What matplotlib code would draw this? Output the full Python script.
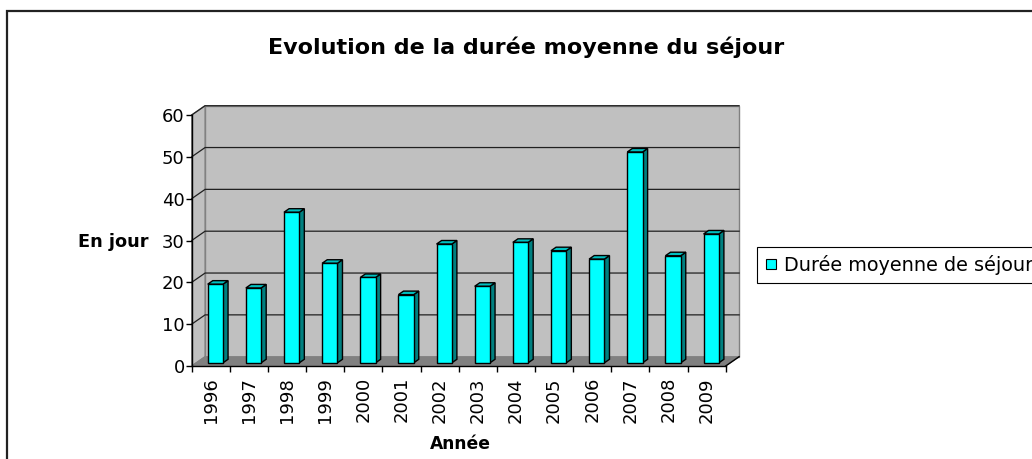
import matplotlib
matplotlib.use('Agg')
import matplotlib.pyplot as plt
from matplotlib.patches import Polygon, Rectangle
from matplotlib.lines import Line2D

# ---------------- data ----------------
years = ['1996', '1997', '1998', '1999', '2000', '2001', '2002',
         '2003', '2004', '2005', '2006', '2007', '2008', '2009']
values = [18.8, 17.9, 36.0, 23.8, 20.4, 16.3, 28.4,
          18.3, 28.8, 26.8, 24.8, 50.4, 25.6, 30.8]
y_ticks = [0, 10, 20, 30, 40, 50, 60]
title = "Evolution de la durée moyenne du séjour"
xlabel = "Année"
ylabel = "En jour"
legend_label = "Durée moyenne de séjour"

# ---------------- style ----------------
FRONT = '#00FFFF'
SIDE = '#008080'
TOP = '#00C0C0'
WALL = '#C0C0C0'
FLOOR = '#808080'
plt.rcParams['font.family'] = ['DejaVu Sans']

W, H = 1032, 459
fig = plt.figure(figsize=(W / 100, H / 100), dpi=100)
fig.patch.set_facecolor('white')

# front plane of the plot (pixel positions)
x0p, x1p = 191.7, 725.7
y0p, y1p = 366.0, 115.0
ax = fig.add_axes([x0p / W, 1 - y0p / H, (x1p - x0p) / W, (y0p - y1p) / H])
n = len(years)
ymax = y_ticks[-1]
ax.set_xlim(0, n)
ax.set_ylim(0, ymax)
ax.patch.set_visible(False)

# depth offset (in data units)
dX = 13.4 / ((x1p - x0p) / n)
dY = 9.3 / ((y0p - y1p) / ymax)

# walls
floor = Polygon([(0, 0), (n, 0), (n + dX, dY), (dX, dY)], closed=True,
                facecolor=FLOOR, edgecolor=FLOOR, lw=0.8, zorder=0, clip_on=False)
back = Polygon([(dX, dY), (n + dX, dY), (n + dX, ymax + dY), (dX, ymax + dY)], closed=True,
               facecolor=WALL, edgecolor='#808080', lw=1.0, zorder=0, clip_on=False)
side = Polygon([(0, 0), (dX, dY), (dX, ymax + dY), (0, ymax)], closed=True,
               facecolor=WALL, edgecolor='#808080', lw=1.0, zorder=0, clip_on=False)
for p in (back, side, floor):
    ax.add_patch(p)

# gridlines on back and side walls
for t in y_ticks[1:]:
    ax.plot([0, dX, n + dX], [t, t + dY, t + dY], color='#202020', lw=0.9,
            zorder=1, clip_on=False)
# floor right edge
ax.plot([n, n + dX], [0, dY], color='black', lw=1.0, zorder=1, clip_on=False)

# bars
f0, f1 = 0.34, 0.72
bw = 0.40
dd = f1 - f0
for i, v in enumerate(values):
    c = i + 0.5 + f0 * dX
    xl, xr = c - bw / 2, c + bw / 2
    yb = f0 * dY
    yt = yb + v
    ax.add_patch(Polygon([(xr, yb), (xr + dd * dX, yb + dd * dY),
                          (xr + dd * dX, yt + dd * dY), (xr, yt)], closed=True,
                         facecolor=SIDE, edgecolor='black', lw=1.0, zorder=3, clip_on=False))
    ax.add_patch(Polygon([(xl, yt), (xr, yt), (xr + dd * dX, yt + dd * dY),
                          (xl + dd * dX, yt + dd * dY)], closed=True,
                         facecolor=TOP, edgecolor='black', lw=1.0, zorder=3, clip_on=False))
    ax.add_patch(Rectangle((xl, yb), bw, v, facecolor=FRONT, edgecolor='black',
                           lw=1.0, zorder=4, clip_on=False))

# axes
for s in ('top', 'right'):
    ax.spines[s].set_visible(False)
for s in ('left', 'bottom'):
    ax.spines[s].set_color('black')
    ax.spines[s].set_linewidth(1.0)
    ax.spines[s].set_zorder(5)

ax.set_yticks(y_ticks)
ax.set_yticklabels([str(t) for t in y_ticks])
ax.tick_params(axis='y', direction='out', length=4.5, width=1.0, pad=0.5,
               labelsize=13, colors='black')

ax.set_xticks([i + 0.5 for i in range(n)])
ax.set_xticklabels(years, rotation=90, va='top', ha='center')
ax.set_xticks(list(range(n + 1)), minor=True)
ax.tick_params(axis='x', which='major', length=0, pad=8, labelsize=13)
ax.tick_params(axis='x', which='minor', direction='out', length=4.5, width=1.0)

# texts
fig.text(526.5 / W, 1 - 54.3 / H, title, ha='center', va='baseline',
         fontsize=16, fontweight='bold')
fig.text(148 / W, 1 - 246.7 / H, ylabel, ha='right', va='baseline',
         fontsize=12.8, fontweight='bold')
fig.text(460 / W, 1 - 449 / H, xlabel, ha='center', va='baseline',
         fontsize=12.3, fontweight='bold')

# legend
handle = Line2D([], [], marker='s', ls='none', markersize=6.5,
                markerfacecolor=FRONT, markeredgecolor='black', markeredgewidth=0.8)
leg = fig.legend(handles=[handle], labels=[legend_label], loc='center left',
                 bbox_to_anchor=(757 / W, 1 - 264.8 / H), frameon=True, fancybox=False,
                 edgecolor='black', framealpha=1, fontsize=13.9, handlelength=0.65,
                 handletextpad=0.35, borderpad=0.42, borderaxespad=0)
leg.get_frame().set_linewidth(0.8)

# outer chart border (cut by the image edges on right and bottom)
fig.patches.append(Rectangle((7 / W, -0.2), 1.3, (1 - 11 / H) + 0.2, transform=fig.transFigure,
                             fill=False, edgecolor='#222222', lw=1.6, zorder=10))

fig.savefig('out.png', dpi=100, facecolor='white')
